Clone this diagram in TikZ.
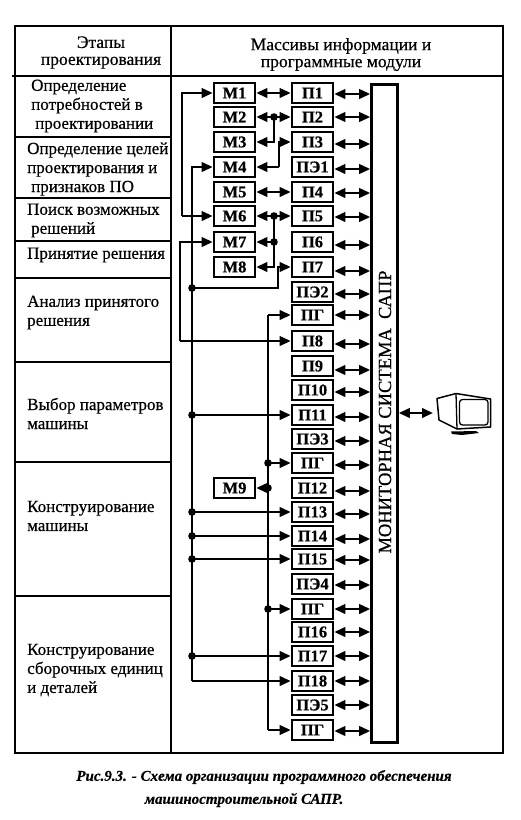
\documentclass[tikz,border=0pt]{standalone}
\usepackage{fontspec}
\setmainfont{Liberation Serif}
\newfontfamily\heavyfont[FakeBold=0.5]{Liberation Serif}
\newfontfamily\boxfont[BoldFeatures={FakeBold=0.5}]{Liberation Serif}
\newfontfamily\capfont[BoldItalicFeatures={FakeBold=0.4}]{Liberation Serif}
\usetikzlibrary{arrows.meta}
\tikzset{
  frame/.style={line width=2.2pt},
  modbox/.style={draw,line width=2.6pt,fill=white,minimum width=41pt,minimum height=20pt,inner sep=0pt,font=\boxfont\bfseries\fontsize{16.5}{16.5}\selectfont},
  cell/.style={anchor=west,align=left,inner sep=0pt,font=\heavyfont\fontsize{17}{19}\selectfont},
  head/.style={align=center,inner sep=0pt,font=\heavyfont\fontsize{17.5}{17}\selectfont},
  wire/.style={line width=2.3pt},
  dbl/.style={wire,{Triangle[length=11pt,width=9.5pt]}-{Triangle[length=11pt,width=9.5pt]}},
  one/.style={wire,-{Triangle[length=11pt,width=9.5pt]}},
  dot/.style={fill=black},
}
\begin{document}
\begin{tikzpicture}[x=1pt,y=-1pt]
\useasboundingbox (0,0) rectangle (520,820);
\fill[white] (0,0) rectangle (520,820);
% table
\draw[frame] (15,26) rectangle (503,753);
\draw[frame] (171,26) -- (171,753);
\draw[frame] (12,76) -- (503,76);
\foreach \y in {137,198,241,278,362,462,596} \draw[frame] (15,\y) -- (171,\y);
% header and stage text
\node[head] (h1) at (101,52.5) {Этапы\\проектирования};
\node[head] (h2) at (341,54.5) {Массивы информации и\\программные модули};
\node[cell] (c1) at (31,106) {Определение\\потребностей в\\\hspace*{4pt}проектировании};
\node[cell] (c2) at (27,169) {Определение целей\\проектирования и\\\hspace*{4pt}признаков ПО};
\node[cell] (c3) at (27,220.5) {Поиск возможных\\\hspace*{4pt}решений};
\node[cell] (c4) at (27,255) {Принятие решения};
\node[cell] (c5) at (27,312.5) {Анализ принятого\\решения};
\node[cell] (c6) at (27,413.5) {Выбор параметров\\машины};
\node[cell] (c7) at (27,516) {Конструирование\\машины};
\node[cell] (c8) at (27,670) {Конструирование\\сборочных единиц\\и деталей};
% monitor column
\node[draw,line width=2.6pt,fill=white,minimum width=26pt,minimum height=658pt,inner sep=0pt] (mon) at (384.5,413.5) {};
\node[rotate=90,inner sep=0pt,font=\heavyfont\fontsize{18.5}{18.5}\selectfont] (montxt) at (385,412) {МОНИТОРНАЯ СИСТЕМА\ \ САПР};
% modules
\foreach \n/\t/\y/\d in {p1/П1/93/-1,p2/П2/117/0,p3/П3/142/-2,pe1/ПЭ1/167/-2,p4/П4/192/-1,p5/П5/216/-1,p6/П6/242/-3,p7/П7/267/-4,pe2/ПЭ2/292/-2,pg1/ПГ/315/0,p8/П8/341/-3,p9/П9/366/-4,p10/П10/390/-2,p11/П11/415/-2,pe3/ПЭ3/439/-2,pg2/ПГ/463/-2,p12/П12/488/-3,p13/П13/512/-2,p14/П14/536/-3,p15/П15/559/-1,pe4/ПЭ4/584/-1,pg3/ПГ/609/0,p16/П16/632/0,p17/П17/656/0,p18/П18/681/0,pe5/ПЭ5/705/0,pg4/ПГ/730/-1}{
  \node[modbox] (\n) at (312.5,\y) {\t};
  \draw[dbl] ([yshift=\d pt]\n.east) -- ([yshift=\d pt]\n.east -| mon.west);
}
\foreach \n/\t/\y in {m1/М1/93,m2/М2/117,m3/М3/142,m4/М4/167,m5/М5/192,m6/М6/216,m7/М7/242,m8/М8/267,m9/М9/488}{
  \node[modbox] (\n) at (234.5,\y) {\t};
}
% buses
\coordinate (busA) at (182,93);
\coordinate (busB) at (192,167);
\coordinate (busC) at (180,242);
\coordinate (busD) at (268,315);
\coordinate (tapE) at (274,117);
\coordinate (tapF) at (274,216);
\coordinate (tapG) at (279,142);
\coordinate (tapH) at (278,288);
% left loops
\draw[one] (m6.west -| busA) |- (m1.west);
\draw[one] (m6.west -| busA) -- (m6.west);
\draw[one] (p18.west -| busB) -- (busB) -- (m4.west);
\draw[one] (p18.west -| busB) -- (p18.west);
\draw[one] (p8.west -| busC) -- (busC) -- (m7.west);
\draw[one] (p8.west -| busC) -- (p8.west);
\draw[one] (pg1.west -| busD) -- (pg1.west);
\draw[wire] (pg4.west -| busD) -- (pg1.west -| busD);
\draw[one] (pg4.west -| busD) -- (pg4.west);
% double links
\draw[dbl] (m1.east) -- (p1.west);
\draw[dbl] (m2.east) -- (p2.west);
\draw[dbl] (m5.east) -- (p4.west);
\draw[dbl] (m6.east) -- (p5.west);
% taps among upper modules
\draw[one] (tapE) |- (m3.east);
\draw[one] (tapF) |- (m8.east);
\draw[one] (tapF |- m7.east) -- (m7.east);
\draw[one] (tapG |- m4.east) |- (p3.west);
\draw[one] (tapG |- m4.east) -- (m4.east);
\draw[one] (busB |- tapH) -| (tapH) |- (p7.west);
% bus branches
\foreach \n in {p11,p13,p14,p15,p17}{
  \draw[one] (busB |- \n.west) -- (\n.west);
  \fill[dot] (busB |- \n.west) circle (3.8pt);
}
\foreach \n in {pg2,pg3}{
  \draw[one] (busD |- \n.west) -- (\n.west);
  \fill[dot] (busD |- \n.west) circle (3.8pt);
}
\draw[one] (busD |- m9.east) -- (m9.east);
\fill[dot] (busD |- m9.east) circle (3.8pt);
\fill[dot] (busB |- tapH) circle (3.8pt);
\fill[dot] (tapE) circle (3.8pt);
\fill[dot] (tapF) circle (3.8pt);
\fill[dot] (tapF |- m7.east) circle (3.8pt);
% terminal
\coordinate (term) at (433,413);
\draw[dbl] (term -| mon.east) -- (term);
\draw[line width=1.5pt,line join=round,fill=white] (437,398.5) -- (456,393.5) -- (490.5,399) -- (490.5,427) -- (457,429) -- (439,420) -- cycle;
\draw[line width=1.3pt] (456,393.5) -- (457,429);
\draw[line width=1.3pt,rounded corners=3pt] (459.5,399.5) rectangle (488,425);
\fill (451,431.5) -- (476,431) -- (479,433) -- (462,435) -- (452,434) -- cycle;
% caption
\node[inner sep=0pt,font=\capfont\bfseries\itshape\fontsize{15}{15}\selectfont] (cap1) at (264,777) {Рис.9.3. - Схема организации программного обеспечения};
\node[inner sep=0pt,font=\capfont\bfseries\itshape\fontsize{15}{15}\selectfont] (cap2) at (244,800) {машиностроительной САПР.};
\end{tikzpicture}
\end{document}
